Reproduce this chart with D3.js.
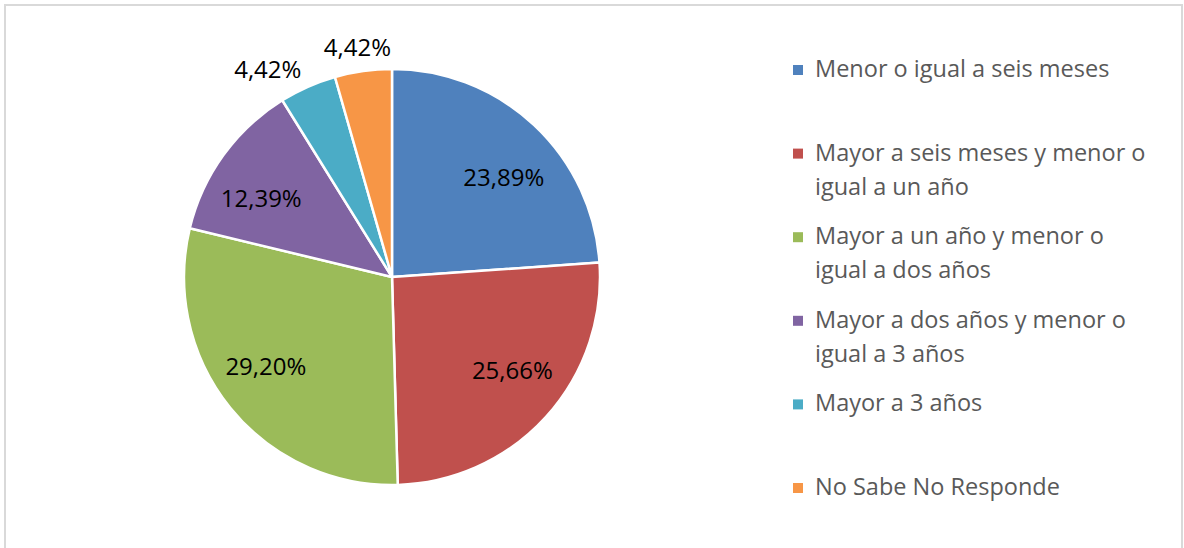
<!DOCTYPE html>
<html>
<head>
<meta charset="utf-8">
<script src="https://cdn.jsdelivr.net/npm/d3@7"></script>
<style>
  html, body { margin: 0; padding: 0; background: #fff; }
  svg { display: block; }
</style>
</head>
<body>
<svg id="chart" width="1184" height="548"></svg>
<script>
const categories = [
  "Menor o igual a seis meses",
  "Mayor a seis meses y menor o igual a un año",
  "Mayor a un año y menor o igual a dos años",
  "Mayor a dos años y menor o igual a 3 años",
  "Mayor a 3 años",
  "No Sabe No Responde"
];
const legendLines = [
  ["Menor o igual a seis meses"],
  ["Mayor a seis meses y menor o", "igual a un año"],
  ["Mayor a un año y menor o", "igual a dos años"],
  ["Mayor a dos años y menor o", "igual a 3 años"],
  ["Mayor a 3 años"],
  ["No Sabe No Responde"]
];
const values = [23.89, 25.66, 29.20, 12.39, 4.42, 4.42];
const valueLabels = ["23,89%", "25,66%", "29,20%", "12,39%", "4,42%", "4,42%"];
const colors = ["#4F81BD", "#C0504D", "#9BBB59", "#8064A2", "#4BACC6", "#F79646"];

const svg = d3.select("#chart");
const FONT = "'Open Sans', Lato, sans-serif";

// outer border
svg.append("rect")
  .attr("x", 5).attr("y", 5)
  .attr("width", 1177).attr("height", 560)
  .attr("fill", "#fff")
  .attr("stroke", "#d9d9d9").attr("stroke-width", 2);

const cx = 392, cy = 277, R = 208;
const g = svg.append("g").attr("transform", `translate(${cx},${cy})`);

const pie = d3.pie().sort(null).value(d => d);
const arcs = pie(values);
const arc = d3.arc().innerRadius(0).outerRadius(R);

g.selectAll("path.slice")
  .data(arcs)
  .join("path")
  .attr("class", "slice")
  .attr("d", arc)
  .attr("fill", (d, i) => colors[i])
  .attr("stroke", "#fff")
  .attr("stroke-width", 2.5)
  .attr("stroke-linejoin", "round");

// label placement: inside for big slices, outside (best fit) for small ones
const labelRadius = [150, 152, 154, 153, 243, 233];
const labelAngleShift = [0.09, -0.08, 0.07, -0.08, -0.12, -0.01];
g.selectAll("text.lbl")
  .data(arcs)
  .join("text")
  .attr("class", "lbl")
  .attr("x", (d, i) => {
    const a = (d.startAngle + d.endAngle) / 2 + labelAngleShift[i];
    return labelRadius[i] * Math.sin(a);
  })
  .attr("y", (d, i) => {
    const a = (d.startAngle + d.endAngle) / 2 + labelAngleShift[i];
    return -labelRadius[i] * Math.cos(a);
  })
  .attr("text-anchor", "middle")
  .attr("dominant-baseline", "central")
  .attr("font-family", FONT)
  .attr("font-size", 24)
  .attr("fill", "#000")
  .text((d, i) => valueLabels[i]);

// legend
const legendX = 793, legendTextX = 815, firstBaseline = 77, step = 83.6, lineH = 34;
const lg = svg.append("g");
legendLines.forEach((lines, i) => {
  const by = firstBaseline + i * step;
  lg.append("rect")
    .attr("x", legendX).attr("y", by - 12)
    .attr("width", 10).attr("height", 10)
    .attr("fill", colors[i]);
  const t = lg.append("text")
    .attr("font-family", FONT)
    .attr("font-size", 23.5)
    .attr("fill", "#595959");
  lines.forEach((ln, j) => {
    t.append("tspan").attr("x", legendTextX).attr("y", by + j * lineH).text(ln);
  });
});
</script>
</body>
</html>
